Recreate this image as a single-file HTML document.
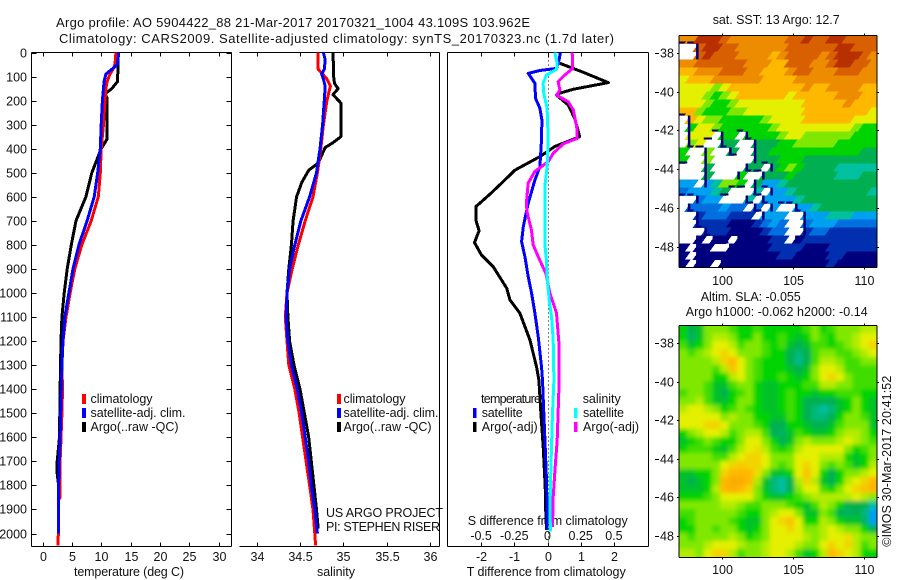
<!DOCTYPE html>
<html>
<head>
<meta charset="utf-8">
<title>Argo profile</title>
<style>
html,body{margin:0;padding:0;background:#fff;}
svg{display:block;font-family:"Liberation Sans",sans-serif;font-size:12.5px;fill:#000;}
text{fill:#111;}
</style>
</head>
<body>
<svg id="chart" xmlns="http://www.w3.org/2000/svg" width="900" height="580" viewBox="0 0 900 580">
<defs>
<filter id="slaBlur" filterUnits="userSpaceOnUse" x="650" y="290" width="260" height="300"><feGaussianBlur stdDeviation="2"/></filter>
<clipPath id="slaClip"><rect x="679" y="325" width="198" height="232"/></clipPath>
<clipPath id="sstClip"><rect x="679" y="35" width="198" height="232"/></clipPath>
</defs>
<text x="56" y="27" font-size="13" textLength="474">Argo profile: AO 5904422_88 21-Mar-2017 20170321_1004 43.109S 103.962E</text>
<text x="59" y="43" font-size="13" textLength="555">Climatology: CARS2009. Satellite-adjusted climatology: synTS_20170323.nc (1.7d later)</text>
<text x="74" y="576" textLength="110">temperature (deg C)</text>
<text x="317" y="576" textLength="38">salinity</text>
<text x="466.7" y="576" textLength="159">T difference from climatology</text>
<text x="467.7" y="525" textLength="160">S difference from climatology</text>
<text x="326" y="517" textLength="117">US ARGO PROJECT</text>
<text x="326" y="531" textLength="114">PI: STEPHEN RISER</text>
<g>
<rect x="82" y="394" width="4" height="10" fill="#f00"/>
<rect x="82" y="408" width="4" height="10" fill="#00f"/>
<rect x="82" y="422" width="4" height="10" fill="#000"/>
<text x="90.5" y="403" textLength="62">climatology</text>
<text x="90.5" y="417" textLength="95">satellite-adj. clim.</text>
<text x="90.5" y="431" textLength="88">Argo(..raw -QC)</text>
</g>
<g>
<rect x="337" y="394" width="4" height="10" fill="#f00"/>
<rect x="337" y="408" width="4" height="10" fill="#00f"/>
<rect x="337" y="422" width="4" height="10" fill="#000"/>
<text x="343.5" y="403" textLength="62">climatology</text>
<text x="343.5" y="417" textLength="95">satellite-adj. clim.</text>
<text x="343.5" y="431" textLength="88">Argo(..raw -QC)</text>
</g>
<text x="712.7" y="24" textLength="127">sat. SST: 13 Argo: 12.7</text>
<text x="700.7" y="301" textLength="100">Altim. SLA: -0.055</text>
<text x="685.7" y="316" textLength="182">Argo h1000: -0.062 h2000: -0.14</text>
<text transform="translate(891,546.7) rotate(-90)" x="0" y="0" textLength="171">©IMOS 30-Mar-2017 20:41:52</text>
<g id="layer"></g>
<g>
<text x="481" y="403" textLength="60">temperature</text>
<text x="582.7" y="403" textLength="38">salinity</text>
<rect x="473" y="408" width="3.5" height="10" fill="#00f"/>
<rect x="473" y="422" width="3.5" height="10" fill="#000"/>
<rect x="574" y="408" width="3.5" height="10" fill="#0ff"/>
<rect x="574" y="422" width="3.5" height="10" fill="#f0f"/>
<text x="481.7" y="417" textLength="41">satellite</text>
<text x="481.7" y="431" textLength="56">Argo(-adj)</text>
<text x="583" y="417" textLength="41">satellite</text>
<text x="583" y="431" textLength="56">Argo(-adj)</text>
</g>
</svg>
<script>
// ---- axis tick data ----
const depthTicks = [0,100,200,300,400,500,600,700,800,900,1000,1100,1200,1300,1400,1500,1600,1700,1800,1900,2000];
const tempTicks = [0,5,10,15,20,25,30];
const salTicks = [34,34.5,35,35.5,36];
const salTickLabels = ['34','34.5','35','35.5','36'];
const diffTTicks = [-2,-1,0,1,2];
const diffSTicks = [-0.5,-0.25,0,0.25,0.5];
const diffSTickLabels = ['-0.5','-0.25','0','0.25','0.5'];
const lonTicks = [100,105,110];
const latTicks = [-38,-40,-42,-44,-46,-48];

// ---- temperature profiles ----
const tempArgoDepth = [0,120,150,170,175,190,360,400,500,600,700,800,900,1000,1100,1200,1400,1600,1700,1750,1800,2000];
const tempArgo = [12.9,12.8,11.8,10.75,10.7,11,11,10,8.4,7.4,5.7,4.9,4.2,3.7,3.3,3.15,3,2.9,2.5,2.5,2.75,2.7];
const tempClimDepth = [0,50,70,90,120,150,200,300,400,500,600,700,800,900,1000,1100,1200,1300,1400,1500,1600,1700,1800,1850,1860,2000,2050];
const tempClim = [12.5,12.35,12,11.5,11,10.8,10.65,10.4,10,9.85,9.5,8.3,6.7,5.5,4.7,4,3.5,3.3,3.4,3.3,3.15,3,3,3,2.72,2.7,2.65];
const tempSatDepth = [0,50,70,90,120,200,300,400,500,600,700,800,900,1000,1100,1200,1300,1400,1500,1600,1700,1800,2000];
const tempSat = [13,12.75,11.8,10.8,10.5,10.2,10,9.85,9.4,8.8,7.6,6.2,5.2,4.5,3.8,3.5,3.3,3.2,3.1,3,2.85,2.75,2.7];

// ---- salinity profiles ----
const salArgoDepth = [0,110,130,150,175,210,350,375,395,460,490,540,600,700,800,900,1000,1100,1200,1300,1400,1500,1600,1700,1800,1900,1980];
const salArgo = [34.88,34.89,34.9,34.94,34.88,34.97,34.97,34.88,34.79,34.71,34.6,34.52,34.46,34.42,34.4,34.37,34.35,34.36,34.38,34.43,34.5,34.55,34.6,34.63,34.66,34.69,34.71];
const salClimDepth = [0,70,85,110,140,170,200,300,400,500,600,700,800,900,1000,1100,1200,1300,1400,1500,1600,1700,1800,1900,2000,2050];
const salClim = [34.71,34.71,34.75,34.81,34.85,34.83,34.81,34.77,34.74,34.7,34.65,34.56,34.48,34.41,34.35,34.33,34.35,34.37,34.44,34.49,34.53,34.57,34.61,34.65,34.67,34.68];
const salSatDepth = [0,30,70,90,110,140,200,300,400,500,600,700,800,900,1000,1100,1200,1300,1400,1500,1600,1700,1800,1900,2000];
const salSat = [34.77,34.79,34.78,34.75,34.77,34.79,34.78,34.76,34.73,34.69,34.61,34.51,34.44,34.38,34.35,34.34,34.36,34.4,34.47,34.52,34.56,34.6,34.63,34.67,34.7];

// ---- difference profiles ----
const dTArgoDepth = [45,82,125,153,170,177,218,274,350,391,433,489,544,590,641,696,741,790,842,890,980,1029,1084,1195,1306,1362,1500,1639,1805,1916,1986];
const dTArgo = [0.37,1.07,1.83,0.77,0.35,0.27,0.62,0.82,0.97,0.22,-0.23,-0.98,-1.39,-1.74,-2.16,-2.16,-2.06,-2.2,-1.99,-1.64,-1.23,-1.13,-0.83,-0.53,-0.33,-0.26,-0.2,-0.13,-0.07,-0.05,-0.03];
const dTSatDepth = [0,30,66,75,87,128,190,232,281,364,475,530,627,724,786,849,932,1001,1084,1181,1306,1362,1500,1639,1778,1916,1986];
const dTSat = [0.39,0.35,0.27,-0.23,-0.58,-0.38,-0.36,-0.23,-0.17,-0.18,-0.23,-0.38,-0.58,-0.73,-0.78,-0.68,-0.58,-0.48,-0.38,-0.28,-0.18,-0.15,-0.11,-0.07,-0.03,-0.01,-0.01];
const dSSatDepth = [0,45,70,94,128,170,232,364,475,558,793,863,932,1029,1098,1195,1362,1500,1639,1778,1916,1992];
const dSSat = [0.055,0.073,0.068,-0.008,-0.033,-0.028,-0.003,0.005,-0.003,-0.02,-0.02,-0.008,-0.003,0.013,0.03,0.043,0.048,0.038,0.03,0.023,0.018,0.023];
const dSArgoDepth = [0,66,94,121,156,177,205,239,308,357,380,419,454,495,544,627,662,738,800,849,918,1001,1084,1223,1362,1611,1722,1847,1972];
const dSArgo = [0.186,0.19,0.13,0.08,0.093,0.068,0.156,0.194,0.22,0.224,0.118,0.043,0.005,-0.096,-0.146,-0.159,-0.154,-0.121,-0.108,-0.07,-0.013,0.018,0.068,0.088,0.088,0.073,0.058,0.043,0.038];

// ---- SST map cells, colour level (-1 = no data), north to south ----
const sstGrid = [
[10,10,12,12,12,11,10,10,10,10,10,10,10,11,11,12,11,11,12,12,11,11,11,11],
[-1,-1,11,12,12,11,11,10,10,10,10,10,10,11,11,11,11,11,11,12,12,11,11,11],
[-1,-1,11,12,11,11,11,10,10,10,10,9,10,11,11,11,11,10,11,12,12,12,11,10],
[10,10,11,11,11,11,11,11,10,10,10,9,9,11,11,11,10,10,11,12,12,11,11,10],
[9,9,10,10,10,11,11,11,10,10,9,9,9,10,11,11,10,10,10,11,11,11,10,10],
[8,9,9,9,10,10,10,10,10,10,9,9,9,9,10,10,10,10,10,10,10,10,10,10],
[8,8,8,8,7,8,9,9,9,9,9,9,9,9,9,10,9,9,10,10,10,10,9,9],
[8,8,8,7,6,7,8,9,9,9,9,9,9,8,9,9,9,9,9,10,10,10,9,9],
[8,8,8,7,6,6,7,8,8,8,8,8,8,8,8,9,9,9,9,9,10,9,9,9],
[9,9,7,6,6,6,7,7,8,8,8,8,8,8,8,9,9,9,9,9,9,9,9,8],
[-1,9,8,7,7,6,6,6,6,6,7,8,8,8,8,9,9,9,9,9,9,8,8,8],
[-1,6,8,8,7,6,6,6,6,6,6,7,8,8,8,8,8,8,8,8,8,7,6,6],
[-1,8,8,8,-1,6,6,-1,6,6,6,6,7,8,8,7,7,7,7,7,7,6,6,6],
[-1,7,8,-1,-1,5,5,-1,-1,5,5,5,6,6,7,7,7,7,7,6,6,6,6,6],
[6,-1,-1,7,-1,-1,5,-1,-1,5,5,6,6,6,6,6,6,6,6,6,6,6,5,5],
[6,-1,-1,7,-1,-1,-1,-1,-1,5,5,5,6,6,6,5,5,5,5,5,5,5,5,5],
[-1,-1,-1,5,-1,-1,-1,-1,5,5,-1,5,6,7,6,5,5,5,5,4,4,4,4,4],
[-1,-1,-1,5,-1,-1,-1,6,-1,-1,5,5,5,6,5,5,5,5,5,4,4,4,5,5],
[3,3,-1,3,4,7,7,6,-1,5,3,3,4,5,5,5,5,5,5,5,5,5,5,5],
[2,3,3,3,4,5,-1,-1,-1,4,-1,3,3,4,5,5,5,5,5,5,5,5,5,4],
[-1,-1,2,3,3,-1,-1,-1,4,-1,3,3,3,3,4,5,5,5,5,5,5,5,5,5],
[-1,2,2,2,2,3,2,2,-1,2,-1,3,-1,-1,3,3,4,5,5,5,5,5,5,5],
[-1,-1,1,2,2,2,1,1,1,-1,3,3,3,-1,-1,3,3,3,4,4,4,3,3,3],
[-1,-1,1,1,1,1,0,0,0,1,2,3,2,-1,-1,2,3,3,3,2,2,2,2,2],
[-1,-1,-1,1,1,1,0,0,0,0,1,2,2,-1,-1,1,2,2,1,1,1,1,1,1],
[-1,-1,0,-1,0,0,-1,0,0,0,0,1,1,-1,0,1,1,1,1,1,1,1,1,1],
[0,-1,0,0,-1,-1,0,0,0,0,0,1,1,1,1,0,0,0,1,1,1,1,1,1],
[0,-1,0,0,0,0,0,0,0,0,0,0,1,1,0,0,0,0,1,1,0,0,0,0],
[0,-1,0,0,-1,0,0,0,0,0,0,0,0,0,0,0,0,0,1,0,0,0,0,0]
];

// ---- SLA map cells, colour level, north to south ----
const slaGrid = [
[6,5,5.5,7,7,7,6.5,6,6,6.5,6,6,6,6,6,6.5,7,6,6.5,7,7,7,7.5,7.5],
[6,4.8,5.5,7,7.5,7.5,7,6,6,7,6,6,6.5,6,5.5,6,7,6.5,6,7,7,7.5,8,8],
[6.5,5.5,6,7,8,8,7.5,6.5,7,7,6.5,6,6.5,5.5,5,5.5,6.5,6.5,6,6.5,7,7.5,8,8.5],
[7,6.5,7,7.5,8,8.5,8,7,7,7,6.5,6,6,5,4.5,5,6.5,7,7,6.5,6.5,7,7.5,8],
[7,7,7,7,7.5,8.5,9,8,7,6.5,6,6,6,5,4.3,5,6.5,7.5,7.5,7,6.5,6.5,7,7],
[7,7,7,7,6.5,7.5,8.8,8,7,6.5,6,6,6,5.5,5,5.5,7,8,8,7.5,6.5,6.5,6.5,6.5],
[7,7,7,7,6,6,7.5,8,7,6.5,6,6,6.5,6,5.5,6,7,8,8.5,8,7,6.5,6.5,6.5],
[7,7,7,6.5,5.5,5.5,6.5,7,7,6,5.5,5.5,6,6,6,6.5,6.5,7.5,7.5,7,7,6.5,6.5,6.5],
[6.5,7,7,6.5,5.5,5,6,6.5,7,6,5.5,5.5,6,6.5,6,6,5.5,6,6,6.5,6.5,6.5,6,6],
[7,7,7.5,6.5,5.5,5.5,6,7,7,6,5.5,5.5,6,6.5,6,5,5,5,5,5.5,6,7,6,5.5],
[7.5,8,8,7.5,7,6,6.5,7,6.5,6,5.5,5.5,6,6.5,6,5,4.5,4,4.5,5.5,6,7,6,5.5],
[8,8,8,8,8,7,7.5,7,7,6,6,5.5,5.5,6.5,6,5,4.5,4.5,5,6,7,7,6.5,5.5],
[8,8,8,8.5,8.5,8,7,7,7,6.5,6,5,5,6,6,5.5,5,5,5.5,6.5,7,7,7,5.5],
[6,7,7.5,8,8,7.5,6.5,7,7.5,7.5,6.5,5,4.8,5.5,6.5,6,5.5,5.5,6,7,7.5,7.5,7,6],
[5.5,6,6.5,7,6.5,6,6,7,8,8,7,6,5,5.5,7,7.5,7,7,7,7.5,8,7.5,7,6.5],
[6,6.5,6.5,6.5,5.8,5.5,6.5,7.5,8,8.3,7.5,6.5,6,6.5,7.5,8,8,8,8,8,7,6,6.5,7],
[7,7,7,7,6.5,6.5,7.5,8,8.5,8.5,8,7,7,7,8,8,8,7.5,7.5,7.5,6,5.5,6,7],
[7,7,7,7,7,8,8.5,8.7,8.5,8.5,8,7,6.5,7,8,8.5,8,7,6.5,7,6.5,5.5,6,7.5],
[5.5,5.5,6,6,7,8.5,9,9,9,8.3,7,5.5,5.5,6,8,8.8,8,6,5,6,7,7,7.5,8],
[5.5,5,5.5,6,7,9,9.3,9.3,9,7.5,5.5,4.5,4,5,7.5,8.5,7.5,5.5,5,6,7.5,8,8.5,9],
[5.5,5.5,5.5,6,7.5,9,9.2,9,8.5,7,5.5,4.5,4,5,7,8,8,6.5,6,7,8,8.5,8.8,9],
[6,6,6,6.5,7,8,8,8,8,7,6,5.5,5.5,6,6.5,7,7.5,7.5,7.5,7.5,7.5,8,7.5,7],
[7,7,7,7,7,7.5,7.5,7,6.5,6.5,7,7,7,6.5,6,5.5,6.5,7.5,7,6,5,5,5,4],
[6.5,6.5,7,7,7,7,7,6.5,6,6,7,7.5,8,8,7,5.5,5.5,7,6.5,5,4.8,5,4.5,3],
[6,6.5,7,7,7,7,6.5,6,5.5,5.5,7,8,8.5,8.8,8,6,6,7.5,7,6,5.5,5.5,4.8,3],
[6,6,7,7,6.5,7,7,6,5.5,6,7,8,8,8.5,8,7,7,7.5,8,7.5,7,7,6,5],
[7,6.5,7,7,7,7,7.5,7,6,6.5,7,8,8,8,8,7.5,7,7.5,8,8,8.3,7.5,7,7],
[7,7,7,7.5,8,8,8,7.5,7,7,7.5,8,8,8,7.5,7,7,8,8.5,8,8.5,7.5,6.5,7],
[7.5,7.5,7,8,8.5,8.5,7.5,6.5,7,7,7.5,8,8,7.5,6.5,5.5,6,7.5,9,8.5,8,7.5,6,6]
];

// ---- shared colour scale for both maps (index = level) ----
const levelColours = ['#00007f','#0030b0','#0070e0','#00a0f0','#00c0a0','#00b050','#00d400','#80e800','#e4f000','#ffb800','#ee8c00','#d86000','#b83000'];

const NS = 'http://www.w3.org/2000/svg';
const layer = document.getElementById('layer');

// axis functions
const yDepth = d => 52.5 + d * 0.2405;
const xTemp = t => 42.5 + t * 5.87;
const xSal = s => 256.7 + (s - 34) * 86.65;
const xDiffT = t => 547.5 + t * 33.2;
const xDiffS = s => 547.5 + s * 132.8;
const xLon = lon => 721.7 + (lon - 100) * 14.2;
const yLatTop = lat => 52.7 + (-38 - lat) * 19.4;
const yLatBot = lat => 343.3 + (-38 - lat) * 19.27;

function line(parent, x1, y1, x2, y2, w) {
  const el = document.createElementNS(NS, 'line');
  
  
  el.setAttribute('x1', x1);
  el.setAttribute('y1', y1);
  el.setAttribute('x2', x2);
  el.setAttribute('y2', y2);
  el.setAttribute('stroke', '#000');
  el.setAttribute('stroke-width', w || 1);
  el.setAttribute('shape-rendering', 'crispEdges');
  parent.appendChild(el);
  return el;
}
function label(parent, str, x, y, anchor) {
  const el = document.createElementNS(NS, 'text');
  
  
  el.setAttribute('x', x);
  el.setAttribute('y', y);
  el.setAttribute('text-anchor', anchor || 'middle');
  el.textContent = str;
  parent.appendChild(el);
  return el;
}
function group(name) {
  const g = document.createElementNS(NS, 'g');
  
  
  layer.appendChild(g);
  return g;
}
function profile(parent, name, values, depths, xf, colour, w) {
  const el = document.createElementNS(NS, 'polyline');
  
  
  el.setAttribute('points', values.map((v, i) => xf(v).toFixed(1) + ',' + yDepth(depths[i]).toFixed(1)).join(' '));
  el.setAttribute('fill', 'none');
  el.setAttribute('stroke', colour);
  el.setAttribute('stroke-width', w || 3);
  el.setAttribute('stroke-linejoin', 'round');
  el.setAttribute('shape-rendering', 'crispEdges');
  parent.appendChild(el);
}
function levelColour(v) {
  const lo = Math.max(0, Math.min(levelColours.length - 1, Math.floor(v)));
  const hi = Math.min(levelColours.length - 1, lo + 1);
  const f = v - lo;
  const hex = c => [1, 3, 5].map(i => parseInt(c.substr(i, 2), 16));
  const a = hex(levelColours[lo]);
  const b = hex(levelColours[hi]);
  return 'rgb(' + a.map((c, i) => Math.round(c + (b[i] - c) * f)).join(',') + ')';
}

// ---- profile panels ----
const L1 = 31.5, R1 = 231.5, L2 = 239.5, R2 = 439.5, L3 = 447.5, R3 = 648.5, T = 52.5, B = 546.5;

const p1 = group('temperature-panel');
line(p1, L1, T, R1, T);
line(p1, L1, B, R1, B);
line(p1, L1, T, L1, B);
line(p1, R1, T, R1, B);
depthTicks.forEach(d => {
  const y = Math.round(yDepth(d)) + 0.5;
  line(p1, L1, y, L1 + 5, y);
  line(p1, R1 - 5, y, R1, y);
  label(p1, String(d), 27, y + 4, 'end');
});
tempTicks.forEach(t => {
  const x = Math.round(xTemp(t)) + 0.5;
  line(p1, x, T, x, T + 4);
  line(p1, x, B - 4, x, B);
  label(p1, String(t), x, 561);
});
profile(p1, 'temperature-argo-line', tempArgo, tempArgoDepth, xTemp, '#000');
profile(p1, 'temperature-climatology-line', tempClim, tempClimDepth, xTemp, '#f00');
profile(p1, 'temperature-satellite-line', tempSat, tempSatDepth, xTemp, '#00f');

const p2 = group('salinity-panel');
line(p2, L2, T, R2, T);
line(p2, L2, B, R2, B);
line(p2, R2, T, R2, B);
salTicks.forEach((s, i) => {
  const x = Math.round(xSal(s)) + 0.5;
  line(p2, x, T, x, T + 4);
  line(p2, x, B - 4, x, B);
  label(p2, salTickLabels[i], x, 561);
});
profile(p2, 'salinity-argo-line', salArgo, salArgoDepth, xSal, '#000');
profile(p2, 'salinity-climatology-line', salClim, salClimDepth, xSal, '#f00');
profile(p2, 'salinity-satellite-line', salSat, salSatDepth, xSal, '#00f');

const p3 = group('difference-panel');
line(p3, L3, T, R3, T);
line(p3, L3, B, R3, B);
line(p3, L3, T, L3, B);
line(p3, R3, T, R3, B);
diffTTicks.forEach(t => {
  const x = Math.round(xDiffT(t)) + 0.5;
  line(p3, x, T, x, T + 4);
  line(p3, x, B - 4, x, B);
  label(p3, String(t), x, 561);
});
diffSTicks.forEach((s, i) => {
  label(p3, diffSTickLabels[i], xDiffS(s), 540);
});
const zero = line(p3, 548.5, T, 548.5, B);

zero.setAttribute('stroke-dasharray', '1 3');
profile(p3, 'dt-argo-line', dTArgo, dTArgoDepth, xDiffT, '#000');
profile(p3, 'dt-satellite-line', dTSat, dTSatDepth, xDiffT, '#00f');
profile(p3, 'ds-argo-line', dSArgo, dSArgoDepth, xDiffS, '#f0f');
profile(p3, 'ds-satellite-line', dSSat, dSSatDepth, xDiffS, '#0ff');

// ---- maps ----
const ML = 679, MW = 198;
function drawStreakMap(parent, grid, top, height, cellName, slant) {
  const rows = grid.length;
  grid.forEach((row, r) => {
    const y0 = top + height * r / rows;
    const y1 = top + height * (r + 1) / rows;
    row.forEach((v, c) => {
      if (v < 0) return;
      const cw = MW / row.length;
      const x0 = ML + cw * c - (c === 0 ? slant * 2 : 0);
      const x1 = ML + cw * (c + 1) + (c === row.length - 1 ? slant * 2 : 0);
      const el = document.createElementNS(NS, 'polygon');
      
      
      el.setAttribute('points', [
        (x0 + slant) + ',' + y0,
        (x1 + slant + 0.4) + ',' + y0,
        (x1 - slant + 0.4) + ',' + (y1 + 0.4),
        (x0 - slant) + ',' + (y1 + 0.4)
      ].join(' '));
      el.setAttribute('fill', levelColour(v));
      el.setAttribute('shape-rendering', 'crispEdges');
      parent.appendChild(el);
      const leftMissing = c > 0 && row[c - 1] < 0;
      const belowMissing = r < rows - 1 && grid[r + 1][c] < 0;
      if (leftMissing) {
        const edge = document.createElementNS(NS, 'rect');
        
        
        edge.setAttribute('x', x0 + slant * 0.2);
        edge.setAttribute('y', y0);
        edge.setAttribute('width', 2.5);
        edge.setAttribute('height', y1 - y0);
        edge.setAttribute('fill', levelColours[0]);
        parent.appendChild(edge);
      }
      if (belowMissing) {
        const edge = document.createElementNS(NS, 'rect');
        
        
        edge.setAttribute('x', x0);
        edge.setAttribute('y', y1 - 2);
        edge.setAttribute('width', x1 - x0);
        edge.setAttribute('height', 2);
        edge.setAttribute('fill', levelColours[0]);
        parent.appendChild(edge);
      }
    });
  });
}
function drawMap(parent, grid, top, height, cellName) {
  const rows = grid.length;
  grid.forEach((row, r) => {
    const y0 = top + height * r / rows;
    const y1 = top + height * (r + 1) / rows;
    row.forEach((v, c) => {
      const x0 = ML + MW * c / row.length;
      const x1 = ML + MW * (c + 1) / row.length;
      const ax = c === 0 ? x0 - 12 : x0;
      const bx = c === row.length - 1 ? x1 + 12 : x1;
      const ay = r === 0 ? y0 - 12 : y0;
      const by = r === rows - 1 ? y1 + 12 : y1;
      const el = document.createElementNS(NS, 'rect');
      
      
      el.setAttribute('x', ax.toFixed(2));
      el.setAttribute('y', ay.toFixed(2));
      el.setAttribute('width', (bx - ax + 0.4).toFixed(2));
      el.setAttribute('height', (by - ay + 0.4).toFixed(2));
      el.setAttribute('fill', levelColour(v));
      parent.appendChild(el);
    });
  });
}
function mapFrame(parent, top, bottom, yf, lonY) {
  line(parent, ML, top, ML + MW, top);
  line(parent, ML, bottom, ML + MW, bottom);
  line(parent, ML, top, ML, bottom);
  line(parent, ML + MW, top, ML + MW, bottom);
  lonTicks.forEach(lon => {
    const x = Math.round(xLon(lon)) + 0.5;
    line(parent, x, top - 2, x, top);
    line(parent, x, bottom, x, bottom + 2);
    label(parent, String(lon), x, lonY);
  });
  latTicks.forEach(lat => {
    const y = Math.round(yf(lat)) + 0.5;
    line(parent, ML - 2, y, ML, y);
    line(parent, ML + MW, y, ML + MW + 2, y);
    const minus = line(parent, 655, y, 659, y);
    
    label(parent, String(Math.abs(lat)), 660, y + 4, 'start');
  });
}
const m1 = group('sst-map');
const sstClipGroup = document.createElementNS(NS, 'g');


sstClipGroup.setAttribute('clip-path', 'url(#sstClip)');
m1.appendChild(sstClipGroup);
drawStreakMap(sstClipGroup, sstGrid, 35.5, 232, 'sst-cell', 3);
mapFrame(m1, 35.5, 267.5, yLatTop, 285);

const m2 = group('sla-map');
const clip = document.createElementNS(NS, 'g');


clip.setAttribute('clip-path', 'url(#slaClip)');
m2.appendChild(clip);
const blur = document.createElementNS(NS, 'g');


blur.setAttribute('filter', 'url(#slaBlur)');
clip.appendChild(blur);
drawMap(blur, slaGrid, 325, 232, 'sla-cell');
mapFrame(m2, 325.5, 557.5, yLatBot, 574);
</script>
</body>
</html>
